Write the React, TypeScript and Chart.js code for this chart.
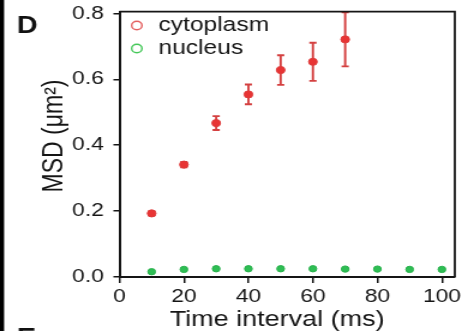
import React, { useEffect, useRef } from "react";
import { Chart, registerables } from "chart.js";

Chart.register(...registerables);

// ---- data ----
const cytoplasmTimes = [10, 20, 30, 40, 50, 60, 70];
const cytoplasmMSD = [0.193, 0.341, 0.467, 0.554, 0.628, 0.653, 0.721];
const cytoplasmErr = [0.006, 0.008, 0.021, 0.03, 0.045, 0.058, 0.082];
const nucleusTimes = [10, 20, 30, 40, 50, 60, 70, 80, 90, 100];
const nucleusMSD = [0.016, 0.023, 0.025, 0.025, 0.025, 0.025, 0.024, 0.024, 0.023, 0.023];
const xTicks = [0, 20, 40, 60, 80, 100];
const yTicks = [0, 0.2, 0.4, 0.6, 0.8];
const seriesNames = ["cytoplasm", "nucleus"];
const xTitle = "Time interval (ms)";
const yTitle = "MSD (\u03bcm\u00b2)";
const panelLabel = "D";
const nextPanelLabel = "E";

const FONT = '"Liberation Sans", Arial, Helvetica, sans-serif';
const SX = 1.2;
const W = 384;
const H = 331;
const RED = "rgb(232,52,52)";
const RED_BAR = "rgb(212,64,64)";
const GREEN = "rgb(46,190,84)";
const INK = "#151515";

const decor = {
  id: "decor",
  beforeDatasetsDraw(chart: any) {
    const { ctx, scales } = chart;
    const x = scales.x;
    const y = scales.y;
    ctx.save();
    ctx.strokeStyle = RED_BAR;
    ctx.lineWidth = 1.9;
    cytoplasmTimes.forEach((t, i) => {
      const px = x.getPixelForValue(t);
      const top = y.getPixelForValue(cytoplasmMSD[i] + cytoplasmErr[i]);
      const bot = y.getPixelForValue(cytoplasmMSD[i] - cytoplasmErr[i]);
      ctx.beginPath();
      ctx.moveTo(px, top);
      ctx.lineTo(px, bot);
      ctx.moveTo(px - 3, top);
      ctx.lineTo(px + 3, top);
      ctx.moveTo(px - 3, bot);
      ctx.lineTo(px + 3, bot);
      ctx.stroke();
    });
    ctx.restore();
  },
  afterDraw(chart: any) {
    const { ctx, chartArea } = chart;
    const { left, right, top, bottom } = chartArea;
    ctx.save();
    // frame top & right
    ctx.strokeStyle = INK;
    ctx.lineWidth = 1.8;
    ctx.beginPath();
    ctx.moveTo(left, top);
    ctx.lineTo(right, top);
    ctx.lineTo(right, bottom);
    ctx.stroke();

    // legend
    const legendY = [25.5, 48.5];
    const baseY = [30.5, 54];
    seriesNames.forEach((name, i) => {
      ctx.beginPath();
      ctx.strokeStyle = i === 0 ? "rgb(228,96,96)" : "rgb(70,200,90)";
      ctx.lineWidth = 1.4;
      ctx.arc(114, legendY[i], 4.3, 0, Math.PI * 2);
      ctx.stroke();
      ctx.fillStyle = INK;
      ctx.font = `20.5px ${FONT}`;
      ctx.textAlign = "left";
      ctx.textBaseline = "alphabetic";
      ctx.fillText(name, 132, baseY[i]);
    });

    // axis titles
    ctx.fillStyle = INK;
    ctx.font = `22.5px ${FONT}`;
    ctx.textAlign = "center";
    ctx.textBaseline = "alphabetic";
    ctx.fillText(xTitle, 231, 325.5);

    ctx.save();
    ctx.translate(46, 136);
    ctx.rotate(-Math.PI / 2);
    ctx.font = `23px ${FONT}`;
    ctx.textAlign = "center";
    ctx.textBaseline = "middle";
    ctx.fillText(yTitle, 0, 0);
    ctx.restore();

    // panel letters
    ctx.font = `bold 24px ${FONT}`;
    ctx.textAlign = "left";
    ctx.textBaseline = "alphabetic";
    ctx.fillStyle = "#111";
    ctx.fillText(panelLabel, 14, 32.5);
    ctx.fillText(nextPanelLabel, 14, 345);

    // left black bar
    ctx.fillStyle = "#000";
    ctx.fillRect(0, 0, 3.4, H);
    ctx.restore();
  },
};

export default function App() {
  const ref = useRef<HTMLCanvasElement | null>(null);

  useEffect(() => {
    const canvas = ref.current;
    if (!canvas) return;
    const chart = new Chart(canvas, {
      type: "scatter",
      data: {
        datasets: [
          {
            label: seriesNames[0],
            data: cytoplasmTimes.map((t, i) => ({ x: t, y: cytoplasmMSD[i] })),
            backgroundColor: RED,
            borderColor: "rgb(222,60,60)",
            pointRadius: 3.6,
            pointBorderWidth: 1,
            showLine: false,
          },
          {
            label: seriesNames[1],
            data: nucleusTimes.map((t, i) => ({ x: t, y: nucleusMSD[i] })),
            backgroundColor: GREEN,
            borderColor: "rgb(40,176,76)",
            pointRadius: 3.2,
            pointBorderWidth: 1,
            showLine: false,
          },
        ],
      },
      options: {
        animation: false,
        responsive: false,
        devicePixelRatio: 1,
        layout: { padding: { top: 11.7, right: 0.7, bottom: 0, left: 0 } },
        plugins: {
          legend: { display: false },
          tooltip: { enabled: false },
          title: { display: false },
        },
        scales: {
          x: {
            type: "linear",
            min: 0,
            max: 104,
            afterBuildTicks: (s: any) => {
              s.ticks = xTicks.map((v) => ({ value: v }));
            },
            afterFit: (s: any) => {
              s.height = 54;
              s.paddingLeft = 0;
              s.paddingRight = 0;
            },
            ticks: {
              font: { family: FONT, size: 19 },
              color: INK,
              padding: 2,
              maxRotation: 0,
              autoSkip: false,
              callback: (v: any) => String(v),
            },
            grid: {
              display: true,
              drawOnChartArea: false,
              drawTicks: true,
              tickLength: 6,
              color: INK,
              lineWidth: 1.5,
            },
            border: { display: true, color: INK, width: 2 },
          },
          y: {
            type: "linear",
            min: 0,
            max: 0.805,
            afterBuildTicks: (s: any) => {
              s.ticks = yTicks.map((v) => ({ value: v }));
            },
            afterFit: (s: any) => {
              s.width = 99.5;
              s.paddingTop = 0;
              s.paddingBottom = 0;
            },
            ticks: {
              font: { family: FONT, size: 19 },
              color: INK,
              padding: 8,
              autoSkip: false,
              callback: (v: any) => Number(v).toFixed(1),
            },
            grid: {
              display: true,
              drawOnChartArea: false,
              drawTicks: true,
              tickLength: 5,
              color: INK,
              lineWidth: 1.5,
            },
            border: { display: true, color: INK, width: 2 },
          },
        },
      },
      plugins: [decor],
    });
    return () => chart.destroy();
  }, []);

  return (
    <div
      style={{
        position: "fixed",
        left: 0,
        top: 0,
        width: 461,
        height: H,
        overflow: "hidden",
        background: "#fff",
      }}
    >
      <div
        style={{
          width: W,
          height: H,
          transform: `scaleX(${SX})`,
          transformOrigin: "0 0",
        }}
      >
        <canvas ref={ref} width={W} height={H} style={{ display: "block" }} />
      </div>
    </div>
  );
}
